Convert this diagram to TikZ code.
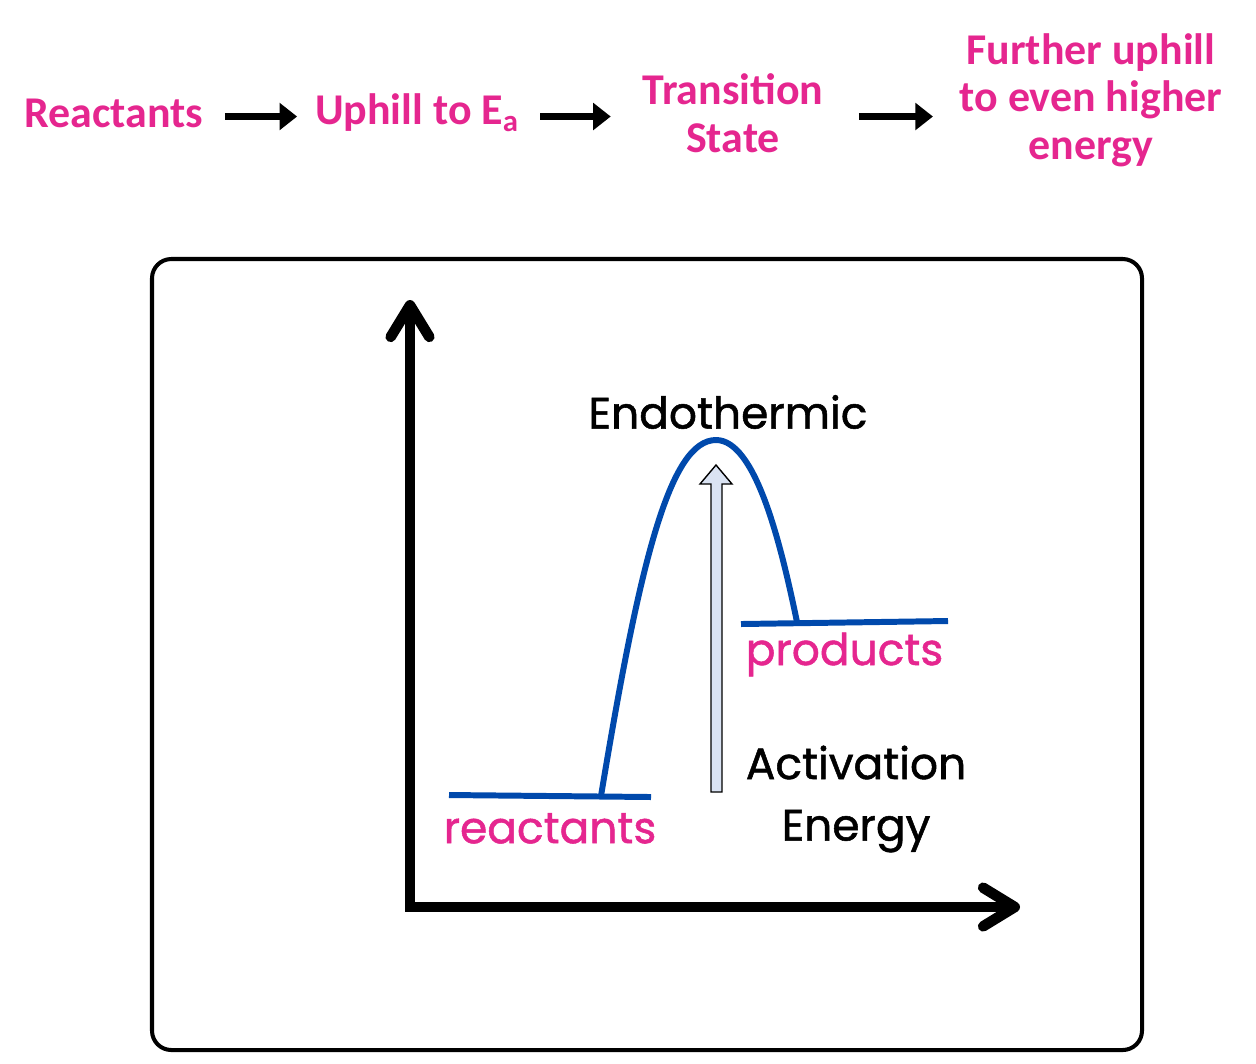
\documentclass[tikz,border=0pt]{standalone}
\usepackage{fontspec}
\setmainfont{Carlito}
\newfontfamily\labelfont[FakeBold=1.2]{Poppins}
\usetikzlibrary{arrows.meta}

\definecolor{hotpink}{HTML}{E5268F}
\definecolor{curveblue}{HTML}{0049AC}
\definecolor{paleblue}{HTML}{DAE3F3}

\begin{document}
\begin{tikzpicture}[x=0.02cm,y=-0.02cm,
    steplabel/.style={text=hotpink,font=\bfseries\fontsize{25}{27}\selectfont,align=center,inner sep=0pt},
    flow/.style={line width=4.5pt,-{Triangle[length=10pt,width=15pt]}},
    axis/.style={line width=6pt,line cap=round,{Straight Barb[length=18pt,width=22pt,round]}-{Straight Barb[length=18pt,width=22pt,round]}},
    level/.style={curveblue,line width=3.4pt},
    plotlabel/.style={font=\labelfont\fontsize{25}{35}\selectfont,align=center,inner sep=0pt}]
  \useasboundingbox (0,0) rectangle (1256,1063);

  % flow of steps along the top
  \node[steplabel] (react) at (114,113) {Reactants};
  \node[steplabel] (uphill) at (417,113) {Uphill to E\textsubscript{a}};
  \node[steplabel] (ts) at (733,113) {Transition\\State};
  \node[steplabel] (further) at (1091,100) {Further uphill\\to even higher\\energy};

  \draw[flow,shorten <=12pt,shorten >=10pt] ([yshift=-2pt]react.east) -- ([yshift=-2pt]uphill.west);
  \draw[flow,shorten <=12pt,shorten >=18pt] ([yshift=-2pt]uphill.east) -- ([yshift=-2pt]uphill.east -| ts.west);
  \draw[flow,shorten <=20pt,shorten >=15pt] ([yshift=-2pt]ts.east) -- ([yshift=-2pt]ts.east -| further.west);

  % frame
  \draw[line width=2.3pt,rounded corners=11pt] (152,259) rectangle (1142,1050);

  % axes
  \coordinate (origin) at (410,907);
  \coordinate (ytop) at (410,300);
  \coordinate (xend) at (1020,907);
  \draw[axis] (ytop) -- (origin) -- (xend);

  % energy levels and the hump
  \draw[level] (449,795) -- node[below=8pt,plotlabel,text=hotpink] (rlabel) {reactants} (651,797);
  \draw[level] (741,624) -- node[below=4pt,plotlabel,text=hotpink] (plabel) {products} (948,621);
  \draw[level] (601,796) .. controls (640,560) and (670,440) .. (716,440)
    .. controls (755,440) and (780,540) .. (797,622);

  \node[plotlabel] (endo) at (728,412) {Endothermic};

  % activation energy arrow
  \filldraw[fill=paleblue,draw=black,line width=0.8pt]
    (711,792) -- (711,484) -- (700,484) -- (716,465) -- (732,484) -- (722,484) -- (722,792) -- cycle;
  \node[plotlabel] (ea) at (856,799) {Activation\\Energy};
\end{tikzpicture}
\end{document}
